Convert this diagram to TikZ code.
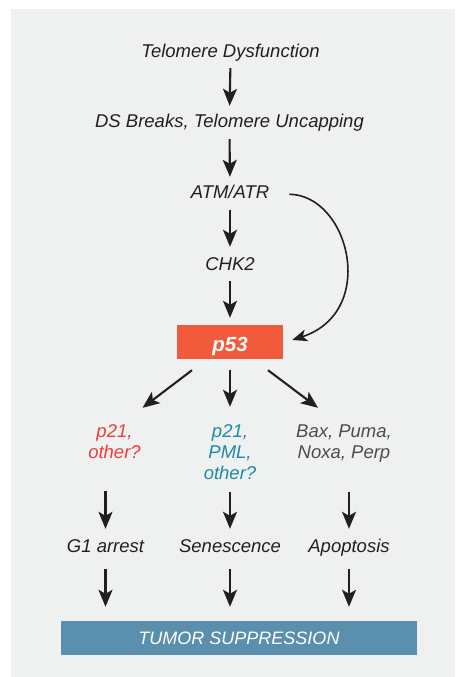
\documentclass[tikz,border=0pt]{standalone}
\usepackage{fontspec}
\setmainfont{Liberation Sans}
\usetikzlibrary{arrows.meta,calc}
\definecolor{bg}{HTML}{EFF0F0}
\definecolor{ink}{HTML}{231F20}
\definecolor{redbox}{HTML}{F15A3B}
\definecolor{bluebox}{HTML}{5A90AD}
\definecolor{redtxt}{HTML}{E8403A}
\definecolor{bluetxt}{HTML}{1D8AA7}
\definecolor{graytxt}{HTML}{4D4D4F}
\tikzset{
  txt/.style={font=\fontsize{18.5}{21}\selectfont\itshape, inner sep=0pt, text height=13.5pt, text depth=4pt, anchor=base, text=ink},
  multi/.style={font=\fontsize{18.5}{21}\selectfont\itshape, inner sep=0pt, align=center, anchor=north},
  arr/.style={draw=ink, line width=2.1pt, -{Stealth[length=17pt,width=14pt,inset=4pt]}},
  carr/.style={draw=ink, line width=1.6pt, -{Stealth[length=15pt,width=12pt,inset=4pt]}},
}
\begin{document}
\begin{tikzpicture}[x=1pt,y=-1pt]
\useasboundingbox (0,0) rectangle (455,677);
\fill[white] (0,0) rectangle (455,677);
\fill[bg] (11,9) rectangle (455,677);

\node[txt] (td) at (230.5,57) {Telomere Dysfunction};
\node[txt] (ds) at (229.5,127) {DS Breaks, Telomere Uncapping};
\node[txt] (atm) at (230,198) {ATM/ATR};
\node[txt] (chk) at (230,270) {CHK2};
\node[fill=redbox, minimum width=106pt, minimum height=34pt, inner sep=0pt,
      text height=18pt, text depth=0pt, text=white,
      font=\fontsize{20.5}{24}\selectfont\bfseries\itshape] (p53) at (230,342) {p53};

\node[multi, text=redtxt] (p21) at (114.5,424.8) {p21,\\other?};
\node[multi, text=bluetxt] (pml) at (230,424.8) {p21,\\PML,\\other?};
\node[multi, text=graytxt] (bax) at (344,424.8) {Bax, Puma,\\Noxa, Perp};

\node[txt] (g1) at (105.5,552) {G1 arrest};
\node[txt] (sen) at (230,552) {Senescence};
\node[txt] (apo) at (349,552) {Apoptosis};

\node[fill=bluebox, minimum width=356pt, minimum height=34pt, inner sep=0pt,
      text height=13pt, text depth=1pt, text=white,
      font=\fontsize{18}{21}\selectfont\itshape] (tum) at (239,638) {TUMOR SUPPRESSION};

\draw[arr, shorten <=7pt, shorten >=7.5pt] (td.south) -- (ds.north);
\draw[arr, shorten <=8pt, shorten >=7.5pt] (ds.south) -- (atm.north);
\draw[arr, shorten <=8pt, shorten >=9.5pt] (atm.south) -- (chk.north);
\draw[arr, shorten <=7pt, shorten >=7pt] (chk.south) -- (p53.north);

\draw[carr] ($(atm.east)+(20,1)$) .. controls ($(atm.east)+(80,2)$) and ($(p53.east)+(95,-30)$) .. ($(p53.east)+(9,-2)$);

\draw[arr] ($(p53.south)+(-38,11)$) -- ($(p21.north)+(28,-17)$);
\draw[arr] ($(p53.south)+(0,11)$) -- ($(pml.north)+(0,-18)$);
\draw[arr] ($(p53.south)+(38,11)$) -- ($(bax.north)+(-26,-17)$);

\draw[arr, shorten <=32pt, shorten >=9.5pt] (p21.south -| g1.north) -- (g1.north);
\draw[arr, shorten <=12pt, shorten >=9.5pt] (pml.south -| sen.north) -- (sen.north);
\draw[arr, shorten <=29pt, shorten >=9.5pt] (bax.south -| apo.north) -- (apo.north);

\draw[arr, shorten <=13pt, shorten >=14pt] (g1.south) -- (g1.south |- tum.north);
\draw[arr, shorten <=13pt, shorten >=14pt] (sen.south) -- (sen.south |- tum.north);
\draw[arr, shorten <=13pt, shorten >=14pt] (apo.south) -- (apo.south |- tum.north);
\end{tikzpicture}
\end{document}
